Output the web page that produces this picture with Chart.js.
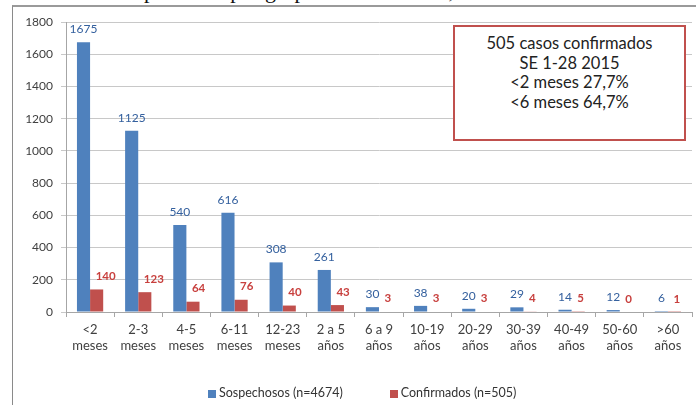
<!DOCTYPE html>
<html>
<head>
<meta charset="utf-8">
<script src="https://cdn.jsdelivr.net/npm/chart.js@4.4.1/dist/chart.umd.min.js"></script>
<style>
  body { margin: 0; width: 696px; height: 405px; overflow: hidden; background: #fff; position: relative; font-family: Lato, "Open Sans", sans-serif; }
  #title { position: absolute; left: 28px; top: -21px; font-family: "Liberation Serif", serif; font-size: 22px; line-height: 24px; color: #111; white-space: nowrap; }
  #frame { position: absolute; left: 12px; top: 5px; width: 700px; height: 420px; border-left: 1px solid #8a8a8a; border-top: 2px solid #9a9a9a; background: #fff; }
  #chart { position: absolute; left: 0; top: 0; }
  #note { position: absolute; left: 453px; top: 25px; width: 229px; height: 105px; border: 2px solid #C0504D; background: #fff;
          font-size: 16.5px; line-height: 19.5px; color: #222; text-align: center; padding-top: 7px; box-sizing: content-box; }
  #legend { position: absolute; left: 208px; top: 385px; display: flex; font-size: 12.5px; color: #333; }
  #legend span.box { display: inline-block; width: 8px; height: 8px; margin-right: 3px; vertical-align: -1px; }
</style>
</head>
<body>
<div id="title">Casos de Sospechosos por grupo de edad. Chile, SE 1-28 2015</div>
<div id="frame"></div>
<canvas id="chart" width="696" height="405"></canvas>
<div id="note"></div>
<div id="legend"></div>
<script>
// categories (two-line labels) and series
const categories = [
  ['<2', 'meses'], ['2-3', 'meses'], ['4-5', 'meses'], ['6-11', 'meses'], ['12-23', 'meses'],
  ['2 a 5', 'años'], ['6 a 9', 'años'], ['10-19', 'años'], ['20-29', 'años'], ['30-39', 'años'],
  ['40-49', 'años'], ['50-60', 'años'], ['>60', 'años']
];
const sospechosos = [1675, 1125, 540, 616, 308, 261, 30, 38, 20, 29, 14, 12, 6];
const confirmados = [140, 123, 64, 76, 40, 43, 3, 3, 3, 4, 5, 0, 1];
const seriesNames = ['Sospechosos (n=4674)', 'Confirmados (n=505)'];
const yTicks = [0, 200, 400, 600, 800, 1000, 1200, 1400, 1600, 1800];
const noteLines = ['505 casos confirmados', 'SE 1-28 2015', '<2 meses 27,7%', '<6 meses 64,7%'];

const barColors = ['#4F81BD', '#C0504D'];
const labelColors = ['#34609E', '#C8403E'];

// annotation box
const note = document.getElementById('note');
noteLines.forEach(line => {
    const d = document.createElement('div');
    d.textContent = line;
    note.appendChild(d);
});

// legend
const legend = document.getElementById('legend');
seriesNames.forEach((name, i) => {
    const item = document.createElement('div');
    if (i > 0) item.style.marginLeft = '47px';
    item.innerHTML = `<span class="box" style="background:${barColors[i]}"></span>`;
    item.appendChild(document.createTextNode(name));
    legend.appendChild(item);
});

// value labels above the bars
const valueLabels = {
    id: 'valueLabels',
    afterDatasetsDraw(chart) {
        const ctx = chart.ctx;
        ctx.save();
        ctx.textBaseline = 'middle';
        chart.data.datasets.forEach((ds, di) => {
            const meta = chart.getDatasetMeta(di);
            meta.data.forEach((bar, i) => {
                ctx.fillStyle = labelColors[di];
                if (di === 0) {
                    ctx.font = '12px Lato';
                    ctx.textAlign = 'center';
                    ctx.fillText(ds.data[i], bar.x, bar.y - 13);
                } else {
                    ctx.font = 'bold 11.5px Lato';
                    ctx.textAlign = 'left';
                    ctx.fillText(ds.data[i], bar.x - 1, bar.y - 13);
                }
            });
        });
        ctx.restore();
    }
};

const ctx = document.getElementById('chart').getContext('2d');
new Chart(ctx, {
    type: 'bar',
    data: {
        labels: categories,
        datasets: [
            { label: seriesNames[0], data: sospechosos, backgroundColor: barColors[0], barPercentage: 1, categoryPercentage: 0.545 },
            { label: seriesNames[1], data: confirmados, backgroundColor: barColors[1], barPercentage: 1, categoryPercentage: 0.545 }
        ]
    },
    options: {
        responsive: false,
        animation: false,
        devicePixelRatio: 1,
        layout: { padding: { top: 22, right: 4, left: 0, bottom: 0 } },
        plugins: { legend: { display: false }, tooltip: { enabled: false } },
        scales: {
            x: {
                grid: { drawOnChartArea: false, tickLength: 5, color: '#A6A6A6' },
                border: { color: '#A6A6A6' },
                ticks: { font: { family: 'Lato', size: 13 }, color: '#404040', padding: 5, maxRotation: 0, autoSkip: false },
                afterFit: s => { s.height = 93; }
            },
            y: {
                min: 0,
                max: 1800,
                afterBuildTicks: s => { s.ticks = yTicks.map(v => ({ value: v })); },
                grid: { color: '#C8C8C8', tickLength: 5 },
                border: { color: '#A6A6A6' },
                ticks: { font: { family: 'Lato', size: 12 }, color: '#404040', padding: 8, callback: v => String(v) },
                afterFit: s => { s.width = 66; }
            }
        }
    },
    plugins: [valueLabels]
});
</script>
</body>
</html>
